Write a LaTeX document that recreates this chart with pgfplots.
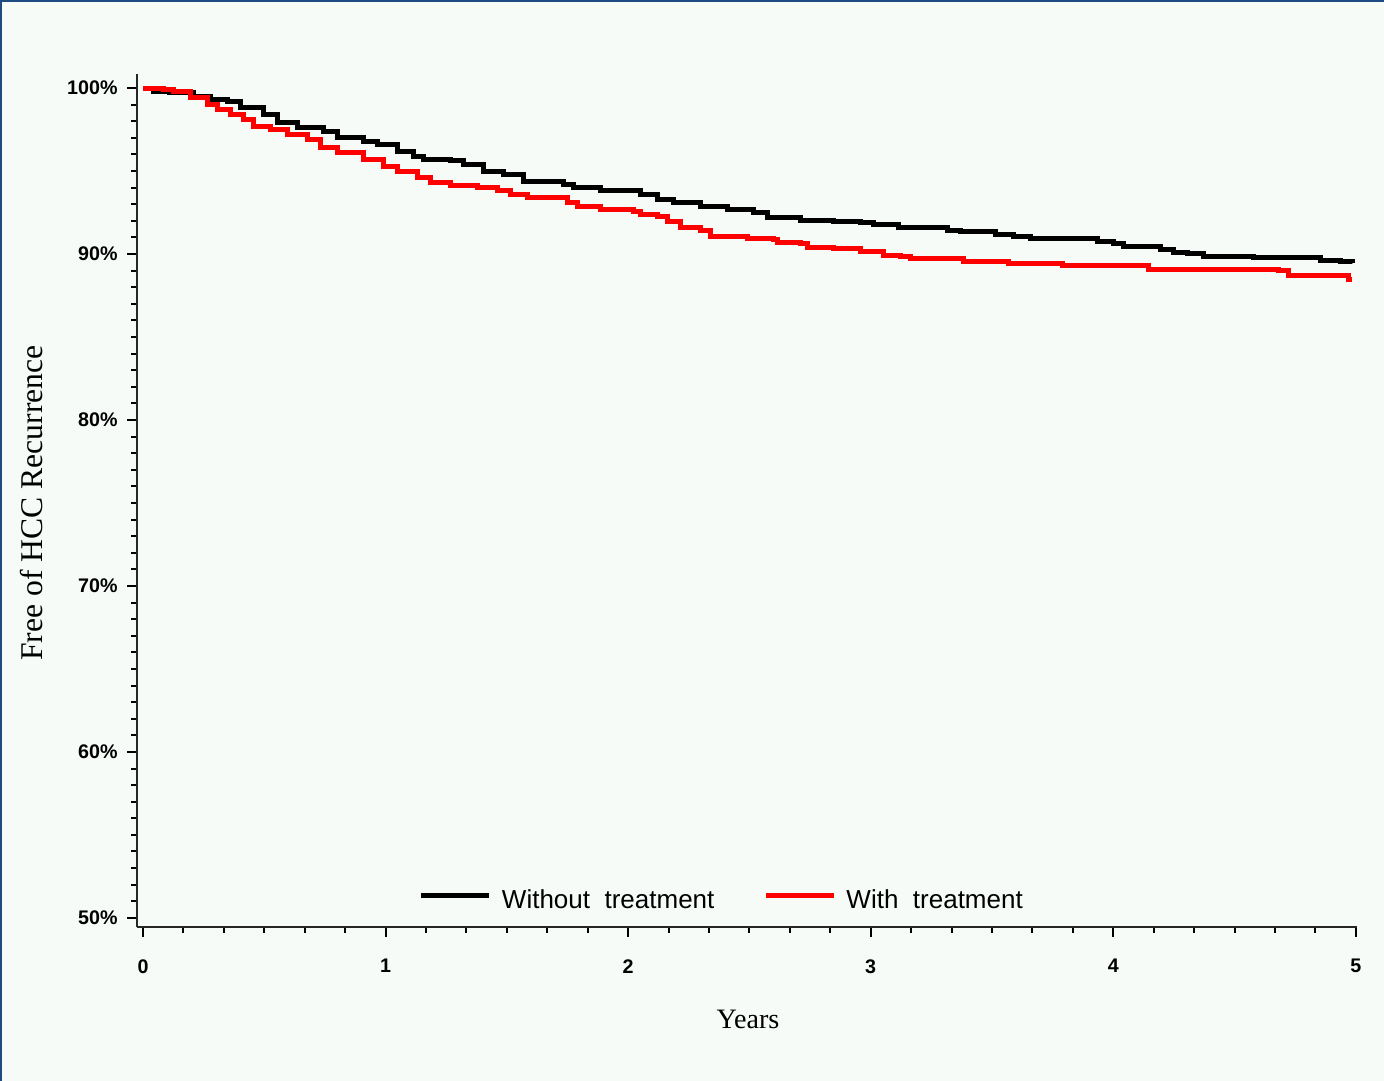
\documentclass[border=0pt]{standalone}
\usepackage{fontspec}
\setmainfont{Liberation Serif}
\newfontfamily\tickfont{Liberation Sans}
\newfontfamily\legfont{Liberation Sans}
\usepackage{pgfplots}
\pgfplotsset{compat=1.18}
\definecolor{bgc}{RGB}{246,251,248}
\definecolor{frame}{RGB}{31,74,130}

\begin{document}
\begin{tikzpicture}[x=1cm,y=1cm]
\fill[bgc] (0,0) rectangle (13.84,10.81);
% frame only on the top and left edges
\fill[frame] (0,0) rectangle (0.02,10.81);
\fill[frame] (0,10.79) rectangle (13.84,10.81);
\begin{axis}[
  at={(1.37cm,1.54cm)}, anchor=south west,
  scale only axis, width=12.2cm, height=8.53cm,
  xmin=-0.025, xmax=5.005, ymin=49.45, ymax=100.85,
  axis x line*=bottom, axis y line*=left,
  axis line style={-, line width=0.02cm, black!85},
  tick align=outside,
  major tick length=0.1cm, minor tick length=0.06cm,
  tick style={black, line width=0.02cm},
  xtick={0,1,2,3,4,5}, minor x tick num=5,
  xticklabels={0,1,2,3,4,5},
  ytick={50,60,70,80,90,100}, minor y tick num=9,
  yticklabels={50\%,60\%,70\%,80\%,90\%,100\%},
  tick label style={font=\tickfont\bfseries\fontsize{5.6}{6}\selectfont},
  xticklabel style={yshift=-0.10cm},
  yticklabel style={xshift=0.03cm},
  xlabel={Years}, ylabel={Free of HCC Recurrence},
  every axis x label/.style={at={(axis description cs:0.5008,-0.1089)}, anchor=center, font=\fontsize{8}{9}\selectfont},
  every axis y label/.style={at={(axis description cs:-0.0861,0.497)}, rotate=90, anchor=center, font=\fontsize{9}{10}\selectfont},
  legend columns=2,
  legend style={draw=none, fill=none, at={(axis description cs:0.2305,0.030)}, anchor=west,
    font=\legfont\fontsize{7.4}{8}\selectfont, inner sep=0pt,
    /tikz/every even column/.append style={column sep=0.42cm}},
  legend image code/.code={\draw[#1] (0cm,0.06cm) -- (0.68cm,0.06cm); \path (0.71cm,0.06cm);},
]
\addplot[const plot, black, line width=0.05cm] coordinates {
(0,100) (0.041,99.82) (0.111,99.72) (0.206,99.52) (0.276,99.32) (0.347,99.17)
(0.400,98.81) (0.495,98.43) (0.553,97.91) (0.635,97.61) (0.743,97.41) (0.800,97.01)
(0.908,96.81) (0.965,96.63) (1.048,96.20) (1.114,95.90) (1.155,95.72) (1.267,95.66)
(1.320,95.42) (1.403,95.00) (1.485,94.82) (1.568,94.40) (1.733,94.20) (1.774,94.00)
(1.885,93.80) (2.050,93.60) (2.120,93.30) (2.186,93.09) (2.298,92.89) (2.409,92.69)
(2.516,92.49) (2.574,92.19) (2.710,92.03) (2.847,91.99) (2.958,91.89) (3.012,91.79)
(3.115,91.58) (3.317,91.43) (3.370,91.34) (3.515,91.19) (3.589,91.08) (3.659,90.95)
(3.936,90.74) (4.002,90.62) (4.043,90.48) (4.196,90.28) (4.249,90.08) (4.307,90.02)
(4.373,89.88) (4.579,89.78) (4.856,89.62) (4.938,89.52) (4.988,89.46)
};
\addlegendentry{Without\ \ treatment}
\addplot[const plot, red, line width=0.05cm] coordinates {
(0,100) (0.083,99.92) (0.124,99.82) (0.194,99.42) (0.264,99.02) (0.305,98.72)
(0.359,98.42) (0.413,98.11) (0.454,97.71) (0.524,97.51) (0.594,97.21) (0.677,96.91)
(0.730,96.40) (0.800,96.10) (0.908,95.70) (0.990,95.30) (1.048,95.00) (1.130,94.60)
(1.184,94.30) (1.267,94.10) (1.378,94.00) (1.460,93.80) (1.514,93.60) (1.584,93.39)
(1.749,93.09) (1.790,92.89) (1.885,92.69) (2.021,92.59) (2.050,92.39) (2.120,92.29)
(2.162,91.99) (2.215,91.58) (2.298,91.39) (2.339,91.08) (2.492,90.95) (2.599,90.89)
(2.616,90.72) (2.710,90.62) (2.739,90.42) (2.847,90.34) (2.958,90.18) (3.053,89.94)
(3.123,89.88) (3.164,89.74) (3.383,89.58) (3.569,89.42) (3.791,89.28) (4.146,89.08)
(4.682,88.98) (4.724,88.73) (4.971,88.48) (4.983,88.48)
};
\addlegendentry{With\ \ treatment}
\end{axis}
\pgfresetboundingbox
\path (0,0) rectangle (13.84,10.81);
\end{tikzpicture}
\end{document}
